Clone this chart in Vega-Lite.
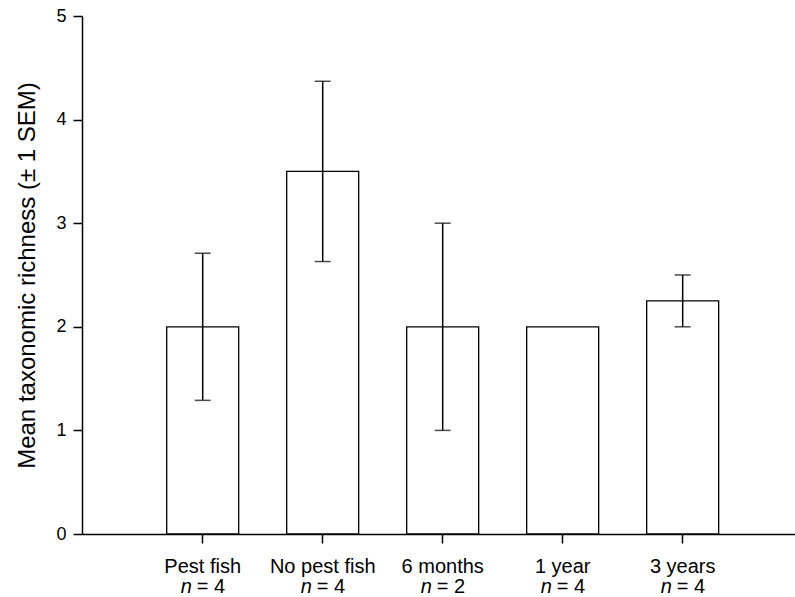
{
  "$schema": "https://vega.github.io/schema/vega-lite/v6.json",
  "autosize": {"type": "none"},
  "padding": {"left": 82, "top": 16, "right": 0, "bottom": 63},
  "width": 713,
  "height": 518,
  "config": {
    "view": {"stroke": null},
    "font": "Liberation Sans",
    "axis": {"labelColor": "black", "titleColor": "black", "domainColor": "black", "tickColor": "black", "grid": false}
  },
  "data": {
    "values": [
      {"group": "Pest fish", "mean": 2.0, "lo": 1.29, "hi": 2.71, "nlab": "= 4"},
      {"group": "No pest fish", "mean": 3.5, "lo": 2.63, "hi": 4.37, "nlab": "= 4"},
      {"group": "6 months", "mean": 2.0, "lo": 1.0, "hi": 3.0, "nlab": "= 2"},
      {"group": "1 year", "mean": 2.0, "lo": null, "hi": null, "nlab": "= 4"},
      {"group": "3 years", "mean": 2.25, "lo": 2.0, "hi": 2.5, "nlab": "= 4"}
    ]
  },
  "encoding": {
    "x": {
      "field": "group", "type": "nominal", "sort": null,
      "scale": {"paddingInner": 0.4, "paddingOuter": 0.671, "align": 0.526, "round": false},
      "axis": {"title": null, "labelAngle": 0, "labelFontSize": 20, "labelPadding": 13, "tickSize": 9, "tickWidth": 1.5, "domainWidth": 1.5}
    }
  },
  "layer": [
    {
      "mark": {"type": "bar", "fill": "white", "stroke": "black", "strokeWidth": 1.3},
      "encoding": {
        "y": {
          "field": "mean", "type": "quantitative",
          "scale": {"domain": [0, 5], "nice": false},
          "axis": {"title": "Mean taxonomic richness (± 1 SEM)", "titleFontSize": 24, "titleFontWeight": "normal", "titlePadding": 16, "values": [0, 1, 2, 3, 4, 5], "format": "d", "labelFontSize": 18, "labelPadding": 7, "tickSize": 9, "tickWidth": 1.5, "domainWidth": 1.5}
        }
      }
    },
    {
      "transform": [{"filter": "datum.hi != null"}],
      "mark": {"type": "rule", "color": "black", "strokeWidth": 1.5},
      "encoding": {"y": {"field": "lo", "type": "quantitative"}, "y2": {"field": "hi"}}
    },
    {
      "transform": [{"filter": "datum.hi != null"}],
      "mark": {"type": "tick", "color": "black", "size": 16, "thickness": 1.5},
      "encoding": {"y": {"field": "hi", "type": "quantitative"}}
    },
    {
      "transform": [{"filter": "datum.lo != null"}],
      "mark": {"type": "tick", "color": "black", "size": 16, "thickness": 1.5},
      "encoding": {"y": {"field": "lo", "type": "quantitative"}}
    },
    {
      "mark": {"type": "text", "text": "n", "fontStyle": "italic", "fontSize": 20, "align": "left", "baseline": "alphabetic", "dx": -22, "color": "black"},
      "encoding": {"y": {"datum": -0.57, "type": "quantitative"}}
    },
    {
      "mark": {"type": "text", "fontSize": 20, "align": "right", "baseline": "alphabetic", "dx": 22.5, "color": "black"},
      "encoding": {"y": {"datum": -0.57, "type": "quantitative"}, "text": {"field": "nlab"}}
    }
  ]
}
